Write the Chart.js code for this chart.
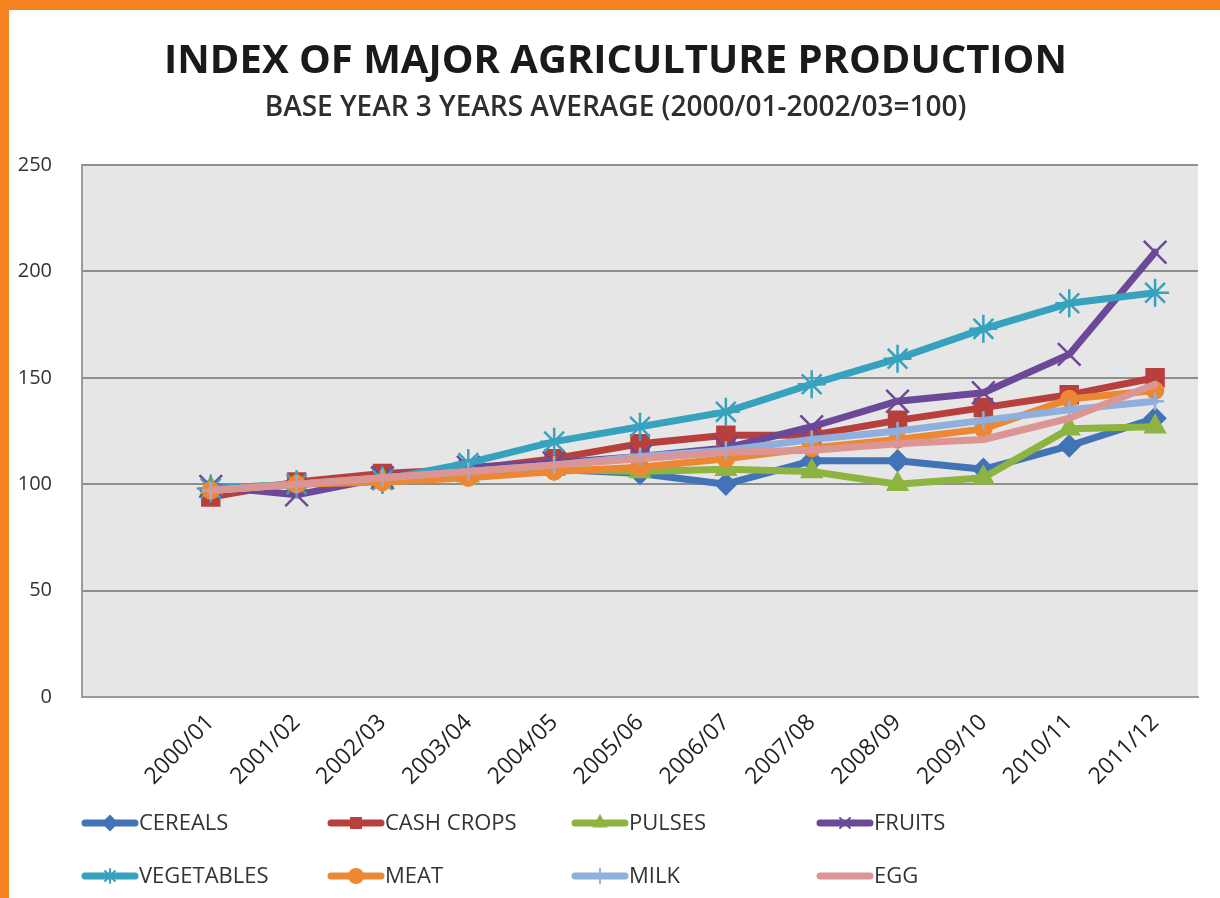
<!DOCTYPE html>
<html>
<head>
<meta charset="utf-8">
<script src="https://cdn.jsdelivr.net/npm/chart.js@4/dist/chart.umd.min.js"></script>
<style>
    html, body { margin: 0; padding: 0; background: #ffffff; }
    #wrap {
        position: absolute; left: 0; top: 0;
        width: 1211px; height: 888px;
        border-top: 10px solid #f5821f;
        border-left: 9px solid #f5821f;
        background: #ffffff;
    }
    #chart { display: block; }
</style>
</head>
<body>
<div id="wrap"><canvas id="chart" width="1211" height="888"></canvas></div>
<script>
let FONT = "'Open Sans', sans-serif";

let title = "INDEX OF MAJOR AGRICULTURE PRODUCTION";
let subtitle = "BASE YEAR 3 YEARS AVERAGE (2000/01-2002/03=100)";

let years = ["2000/01", "2001/02", "2002/03", "2003/04", "2004/05", "2005/06",
    "2006/07", "2007/08", "2008/09", "2009/10", "2010/11", "2011/12"];

let seriesNames = ["CEREALS", "CASH CROPS", "PULSES", "FRUITS",
    "VEGETABLES", "MEAT", "MILK", "EGG"];

let cereals    = [97, 100, 103, 106, 107, 105, 100, 111, 111, 107, 118, 131];
let cashCrops  = [94, 101, 105, 107, 112, 119, 123, 123, 130, 136, 142, 150];
let pulses     = [98, 100, 102, 104, 107, 106, 107, 106, 100, 103, 126, 127];
let fruits     = [99, 95, 103, 108, 110, 113, 117, 127, 139, 143, 161, 209];
let vegetables = [98, 100, 102, 110, 120, 127, 134, 147, 159, 173, 185, 190];
let meat       = [97, 100, 101, 103, 106, 108, 112, 117, 121, 126, 140, 144];
let milk       = [97, 100, 103, 106, 109, 113, 116, 121, 125, 130, 135, 139];
let egg        = [97, 100, 103, 106, 109, 112, 115, 116, 119, 121, 131, 147];

let yTicks = [0, 50, 100, 150, 200, 250];

let colors = ["#4273b6", "#b8403c", "#8db340", "#6c4998",
    "#37a2bd", "#ec8834", "#8fafdc", "#db9595"];
let markers = ["rectRot", "rect", "triangle", "crossRot",
    "star", "circle", "cross", false];
let markerSizes = [10, 12, 11, 16, 14, 8, 9, 0];

let allSeries = [cereals, cashCrops, pulses, fruits, vegetables, meat, milk, egg];

// first category is left empty, like the original sheet
let labels = [""].concat(years);

let datasets = allSeries.map((values, i) => ({
    label: seriesNames[i],
    data: [null].concat(values),
    borderColor: colors[i],
    backgroundColor: colors[i],
    pointBackgroundColor: colors[i],
    pointBorderColor: colors[i],
    borderWidth: 7,
    pointStyle: markers[i],
    pointRadius: markerSizes[i],
    pointBorderWidth: 2.5,
    borderJoinStyle: "round",
    borderCapStyle: "round",
    tension: 0,
    order: allSeries.length - i
}));

// grey plot background
let plotBackground = {
    id: "plotBackground",
    beforeDraw(chart) {
        let a = chart.chartArea;
        let c = chart.ctx;
        c.save();
        c.fillStyle = "#e6e6e6";
        c.fillRect(a.left, a.top, a.right - a.left, a.bottom - a.top);
        c.restore();
    }
};

// title + subtitle, centred on the whole card
let header = {
    id: "header",
    afterDraw(chart) {
        let c = chart.ctx;
        let cx = chart.width / 2 + 1;
        c.save();
        c.textAlign = "center";
        c.textBaseline = "middle";
        c.fillStyle = "#1a1a1a";
        c.font = "bold 40px " + FONT;
        c.fillText(title, cx, 52);
        c.fillStyle = "#2e2e2e";
        c.font = "600 28px " + FONT;
        c.fillText(subtitle, cx, 98);
        c.restore();
    }
};

// two-row legend with fixed columns
let gridLegend = {
    id: "gridLegend",
    afterDraw(chart) {
        let c = chart.ctx;
        let colX = [73, 319, 563, 808];
        let rowY = [813, 866];
        chart.data.datasets.forEach((ds, i) => {
            let x = colX[i % 4];
            let y = rowY[Math.floor(i / 4)];
            c.save();
            c.strokeStyle = ds.borderColor;
            c.lineWidth = 7;
            c.lineCap = "round";
            c.beginPath();
            c.moveTo(x + 3, y);
            c.lineTo(x + 53, y);
            c.stroke();
            if (ds.pointStyle) {
                c.fillStyle = ds.borderColor;
                c.strokeStyle = ds.borderColor;
                c.lineWidth = 2;
                Chart.helpers.drawPoint(c, {
                    pointStyle: ds.pointStyle, radius: 7, rotation: 0, borderWidth: 2
                }, x + 28, y);
            }
            c.fillStyle = "#333333";
            c.font = "22px " + FONT;
            c.textBaseline = "middle";
            c.textAlign = "left";
            c.fillText(ds.label, x + 57, y + 1);
            c.restore();
        });
    }
};

let ctx = document.getElementById("chart").getContext("2d");
let chart = new Chart(ctx, {
    type: "line",
    data: { labels: labels, datasets: datasets },
    plugins: [plotBackground, header, gridLegend],
    options: {
        responsive: false,
        animation: false,
        layout: { padding: { left: 0, right: 22, top: 155, bottom: 110 } },
        plugins: {
            legend: { display: false },
            tooltip: { enabled: false },
            title: { display: false }
        },
        scales: {
            x: {
                offset: true,
                grid: { display: false, drawTicks: false },
                border: { display: true, color: "#9a9a9a", width: 2 },
                ticks: {
                    color: "#222222",
                    font: { family: FONT, size: 23 },
                    maxRotation: 45,
                    minRotation: 45,
                    autoSkip: false,
                    padding: 12
                },
                afterFit(scale) { scale.height = 91; }
            },
            y: {
                min: 0,
                max: 250,
                afterBuildTicks(scale) {
                    scale.ticks = yTicks.map(v => ({ value: v }));
                },
                grid: { color: "#8e8e8e", lineWidth: 2, drawTicks: false },
                border: { display: true, color: "#9a9a9a", width: 2 },
                ticks: {
                    color: "#333333",
                    font: { family: FONT, size: 20 },
                    padding: 30
                },
                afterFit(scale) { scale.width = 73; }
            }
        }
    }
});
</script>
</body>
</html>
